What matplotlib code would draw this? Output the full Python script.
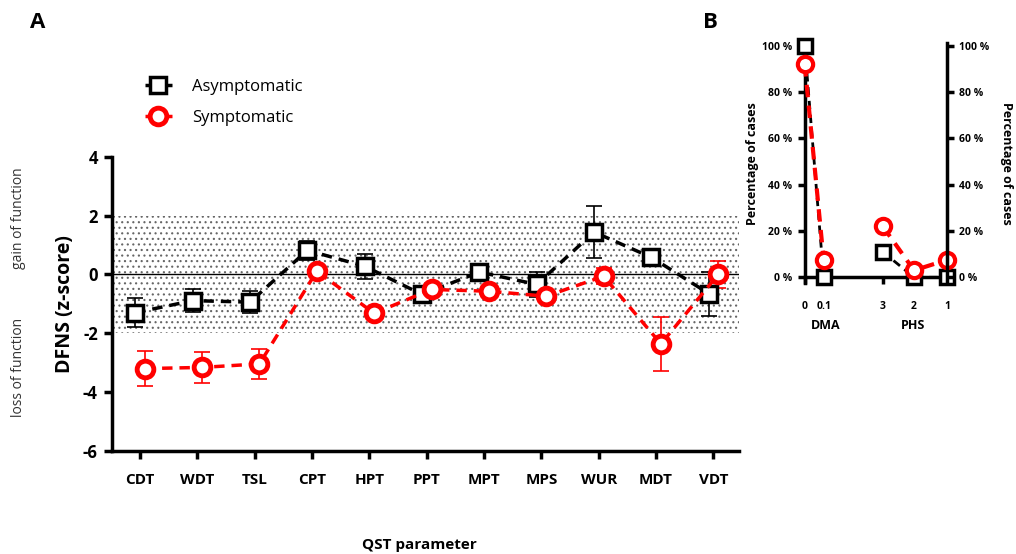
import matplotlib
matplotlib.use("Agg")
import matplotlib.pyplot as plt
import numpy as np

plt.rcParams["font.family"] = ["Open Sans", "DejaVu Sans"]
plt.rcParams["axes.unicode_minus"] = False
plt.rcParams["hatch.linewidth"] = 0.8

# panel A data
qst_params = ["CDT", "WDT", "TSL", "CPT", "HPT", "PPT", "MPT", "MPS", "WUR", "MDT", "VDT"]
asym_mean = [-1.30, -0.89, -0.94, 0.82, 0.28, -0.68, 0.08, -0.34, 1.44, 0.58, -0.65]
asym_err = [0.50, 0.40, 0.38, 0.33, 0.42, 0.15, 0.25, 0.42, 0.87, 0.15, 0.75]
sym_mean = [-3.20, -3.16, -3.04, 0.11, -1.32, -0.51, -0.57, -0.74, -0.06, -2.36, 0.00]
sym_err = [0.60, 0.53, 0.52, 0.10, 0.10, 0.10, 0.10, 0.10, 0.28, 0.93, 0.47]

# panel B data (percentage of cases)
b_ticklabels = ["0", "0.1", "3", "2", "1"]
asym_dma = [100, 0]
asym_phs = [11, 0, 0]
sym_dma = [92, 7.5]
sym_phs = [22, 3, 7.5]

x_a = np.arange(len(qst_params))
x_b = [0, 0.6, 2.47, 3.46, 4.5]

fig = plt.figure(figsize=(10.16, 5.54), dpi=100)

# ---------------- panel A ----------------
ax = fig.add_axes([0.110, 0.186, 0.617, 0.531])
ax.axhspan(-2, 2, facecolor="none", edgecolor="#666666", hatch="...", linewidth=0, zorder=0)
ax.axhline(0, color="black", lw=1, zorder=1)

xa1 = x_a - 0.08
xa2 = x_a + 0.085
ax.errorbar(xa1, asym_mean, yerr=asym_err, fmt="none", ecolor="black",
            elinewidth=1.2, capsize=6, capthick=1.2, zorder=2)
ax.errorbar(xa2, sym_mean, yerr=sym_err, fmt="none", ecolor="red",
            elinewidth=1.2, capsize=6, capthick=1.2, zorder=2)
ax.plot(xa1, asym_mean, color="black", ls=(0, (3, 2)), lw=2.5,
        marker="s", ms=11, mfc="white", mec="black", mew=2.5, label="Asymptomatic", zorder=3)
ax.plot(xa2, sym_mean, color="red", ls=(0, (3, 2)), lw=2.5,
        marker="o", ms=12, mfc="white", mec="red", mew=3.5, label="Symptomatic", zorder=4)

ax.set_xlim(-0.49, 10.44)
ax.set_ylim(-6, 4)
ax.set_yticks([-6, -4, -2, 0, 2, 4])
ax.set_xticks(x_a)
ax.set_xticklabels(qst_params, fontsize=11, fontweight="bold")
for lab in ax.get_yticklabels():
    lab.set_fontsize(12)
    lab.set_fontweight("bold")
ax.tick_params(axis="both", direction="out", length=6, width=2.5, pad=4)
ax.tick_params(axis="x", pad=10)
for s in ["top", "right"]:
    ax.spines[s].set_visible(False)
for s in ["left", "bottom"]:
    ax.spines[s].set_linewidth(2.5)
ax.set_ylabel("DFNS (z-score)", fontsize=14, fontweight="bold", labelpad=6)

fig.text(0.413, 0.016, "QST parameter", fontsize=11, fontweight="bold", ha="center", va="center")
fig.text(0.018, 0.607, "gain of function", rotation=90, ha="center", va="center", fontsize=10, color="#333333")
fig.text(0.018, 0.336, "loss of function", rotation=90, ha="center", va="center", fontsize=10, color="#333333")

fig.legend(loc="upper left", bbox_to_anchor=(0.128, 0.885), frameon=False, fontsize=12,
           labelspacing=0.9, handlelength=1.6, handletextpad=1.2)

fig.text(0.037, 0.96, "A", fontsize=16, fontweight="bold", ha="center", va="center")
fig.text(0.699, 0.96, "B", fontsize=16, fontweight="bold", ha="center", va="center")

# ---------------- panel B ----------------
bx = fig.add_axes([0.792, 0.489, 0.140, 0.433])
bx.plot(x_b[:2], asym_dma, color="black", ls=(0, (3, 2)), lw=2, marker="s", ms=10,
        mfc="white", mec="black", mew=2.5, clip_on=False, zorder=3)
bx.plot(x_b[2:], asym_phs, color="black", ls=(0, (3, 2)), lw=2, marker="s", ms=10,
        mfc="white", mec="black", mew=2.5, clip_on=False, zorder=3)
bx.plot(x_b[:2], sym_dma, color="red", ls=(0, (3, 2)), lw=3, marker="o", ms=11,
        mfc="white", mec="red", mew=3, clip_on=False, zorder=4)
bx.plot(x_b[2:], sym_phs, color="red", ls=(0, (3, 2)), lw=3, marker="o", ms=11,
        mfc="white", mec="red", mew=3, clip_on=False, zorder=4)

pct_ticks = [0, 20, 40, 60, 80, 100]
pct_labels = [f"{v} %" for v in pct_ticks]

bx.set_xlim(0, 4.5)
bx.set_ylim(-2.5, 101)
bx.spines["bottom"].set_position(("data", 0))
bx.spines["top"].set_visible(False)
bx.spines["right"].set_visible(False)
for s in ["left", "bottom"]:
    bx.spines[s].set_linewidth(2.5)
bx.set_yticks(pct_ticks)
bx.set_yticklabels(pct_labels, fontsize=7.5, fontweight="bold")
bx.set_xticks(x_b)
bx.set_xticklabels(b_ticklabels, fontsize=7.5, fontweight="bold")
bx.tick_params(axis="both", direction="out", length=5, width=2.5, pad=4)
bx.tick_params(axis="x", pad=12)
bx.set_ylabel("Percentage of cases", fontsize=9, fontweight="bold", labelpad=2)

rx = bx.twinx()
rx.set_ylim(bx.get_ylim())
rx.set_yticks(pct_ticks)
rx.set_yticklabels(pct_labels, fontsize=7.5, fontweight="bold")
rx.tick_params(axis="y", direction="out", length=5, width=2.5, pad=4)
for s in ["top", "left", "bottom"]:
    rx.spines[s].set_visible(False)
rx.spines["right"].set_linewidth(2.5)
rx.set_ylabel("Percentage of cases", fontsize=9, fontweight="bold", rotation=-90, labelpad=17)

fig.text(0.813, 0.413, "DMA", fontsize=9, fontweight="bold", ha="center", va="center")
fig.text(0.899, 0.413, "PHS", fontsize=9, fontweight="bold", ha="center", va="center")

fig.savefig("out.png", dpi=100)
